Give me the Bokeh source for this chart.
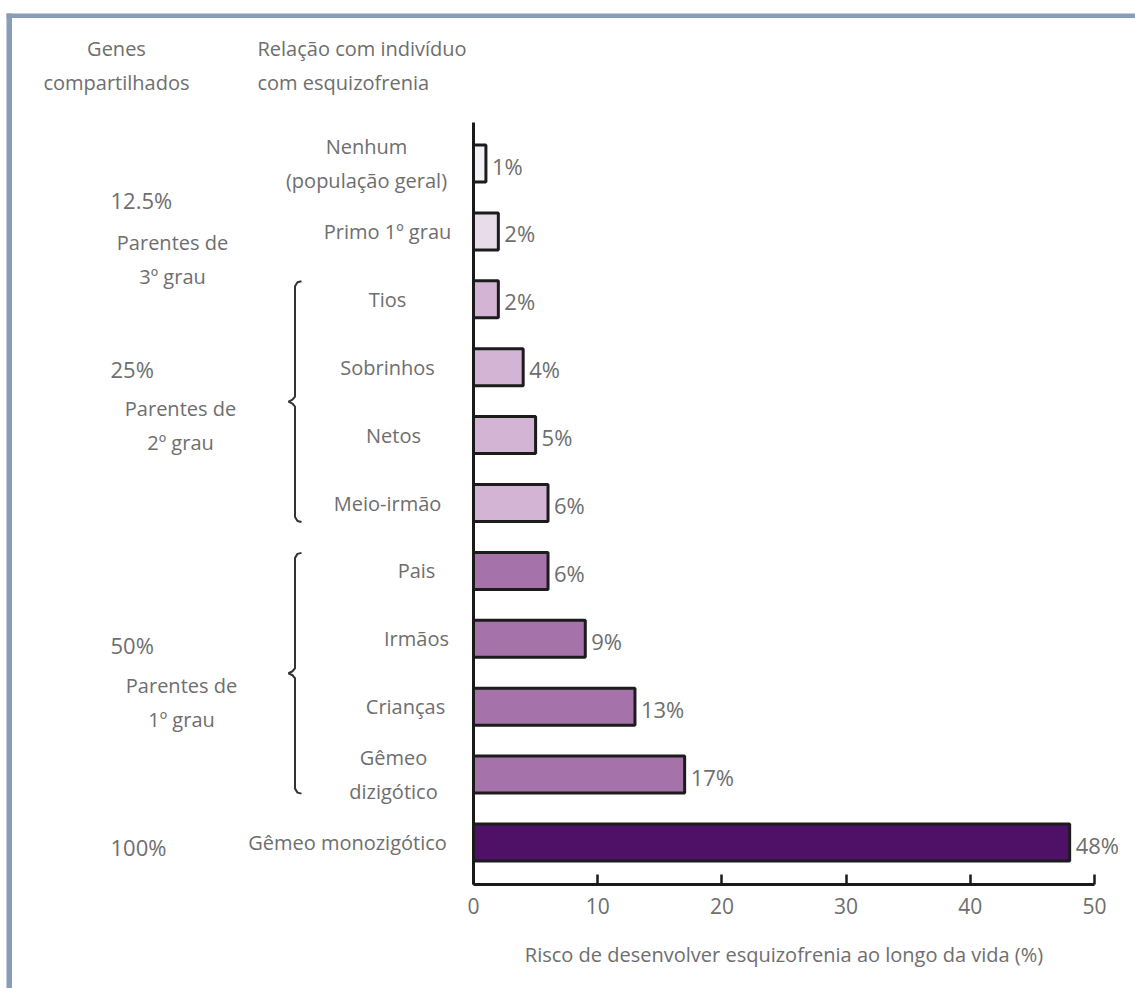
import numpy as np
from bokeh.plotting import figure
from bokeh.models import Range1d, LinearAxis, FixedTicker, ColumnDataSource, BoxAnnotation
from bokeh.core.properties import value
from bokeh.embed import file_html
from bokeh.resources import INLINE

# ---------------- data ----------------
categories = ["Nenhum\n(população geral)", "Primo 1º grau", "Tios", "Sobrinhos", "Netos",
              "Meio-irmão", "Pais", "Irmãos", "Crianças", "Gêmeo\ndizigótico",
              "Gêmeo monozigótico"]
risk = [1, 2, 2, 4, 5, 6, 6, 9, 13, 17, 48]
risk_labels = [f"{v}%" for v in risk]
shared_genes = ["12.5%", "25%", "50%", "100%"]
degree_groups = ["Parentes de\n3º grau", "Parentes de\n2º grau", "Parentes de\n1º grau"]
bracket_groups = [(2, 5), (6, 9)]          # row ranges grouped by braces
x_ticks = [0, 10, 20, 30, 40, 50]
header_left = "Genes\ncompartilhados"
header_mid = "Relação com indivíduo\ncom esquizofrenia"
x_title = "Risco de desenvolver esquizofrenia ao longo da vida (%)"

# ---------------- styles ----------------
bar_colors = ["#f4f1f7", "#e8dbea", "#d3b4d5", "#d3b4d5", "#d3b4d5", "#d3b4d5",
              "#a573aa", "#a573aa", "#a573aa", "#a573aa", "#4f1068"]
label_cx = [366, 387, 387, 387, 393, 387, 416, 416, 405, 393, 347]   # px centres
genes_py = [199, 368, 644, 846]
degree_cx = [172, 180, 181]
degree_py = [242, 408, 685]
FONT = "Open Sans"
TXT = "#6e6e6e"
FS = "20px"
W, H = 1135, 988
X0, SX = 473.0, 12.42
Y0, SY = 163.0, 67.9
LINE = 34


def dx(px):
    return (px - X0) / SX


def dy(py):
    return -(py - Y0) / SY


rows = np.arange(len(categories))
yc = -rows.astype(float)

p = figure(width=W, height=H, output_backend="svg", toolbar_location=None,
           x_axis_type=None, y_axis_type=None, min_border=0,
           x_range=Range1d(dx(0), dx(W)), y_range=Range1d(dy(H), dy(0)))
p.outline_line_color = None
p.background_fill_color = "white"

# border (top and left)
p.add_layout(BoxAnnotation(left=dx(6), right=dx(W), top=dy(13), bottom=dy(17.5),
                           fill_color="#8a9cb8", fill_alpha=1, line_alpha=0))
p.add_layout(BoxAnnotation(left=dx(6), right=dx(11.5), top=dy(13), bottom=dy(H),
                           fill_color="#8a9cb8", fill_alpha=1, line_alpha=0))

src = ColumnDataSource(dict(y=yc, risk=risk, color=bar_colors, lab=risk_labels))
p.hbar(y="y", left=0, right="risk", height=37 / SY, fill_color="color",
       line_color="#1c1c1c", line_width=3, source=src)
p.text(x="risk", y="y", text="lab", x_offset=6, y_offset=2, text_align="left",
       text_baseline="middle", text_color=TXT, text_font=value(FONT),
       text_font_size="22px", source=src)

# axes
xaxis = LinearAxis(fixed_location=dy(884), bounds=(0, 50), ticker=FixedTicker(ticks=x_ticks),
                   axis_label=x_title)
xaxis.axis_line_width = 3
xaxis.axis_line_color = "#1a1a1a"
xaxis.major_tick_in = 10
xaxis.major_tick_out = 0
xaxis.major_tick_line_width = 2.5
xaxis.major_tick_line_color = "#1a1a1a"
xaxis.minor_tick_line_color = None
xaxis.major_label_standoff = 13
xaxis.major_label_text_font = FONT
xaxis.major_label_text_font_size = "21px"
xaxis.major_label_text_color = TXT
xaxis.axis_label_text_font = FONT
xaxis.axis_label_text_font_size = FS
xaxis.axis_label_text_font_style = "normal"
xaxis.axis_label_text_color = TXT
xaxis.axis_label_standoff = 24
p.add_layout(xaxis, "below")

yaxis = LinearAxis(fixed_location=0, bounds=(dy(884), dy(122)), ticker=FixedTicker(ticks=[]))
yaxis.axis_line_width = 3
yaxis.axis_line_color = "#1a1a1a"
yaxis.major_tick_line_color = None
yaxis.minor_tick_line_color = None
yaxis.major_label_text_font_size = "0px"
p.add_layout(yaxis, "left")

# category labels
tx, ty, tt = [], [], []
for r, (cat, cx) in enumerate(zip(categories, label_cx)):
    lines = cat.split("\n")
    n = len(lines)
    for k, ln in enumerate(lines):
        tx.append(dx(cx))
        ty.append(yc[r] - (k - (n - 1) / 2) * LINE / SY)
        tt.append(ln)
p.text(x=tx, y=ty, text=tt, text_align="center", text_baseline="middle",
       text_color=TXT, text_font=value(FONT), text_font_size=FS)

# headers
for txt, xpx, align in [(header_left, 116, "center"), (header_mid, 257, "left")]:
    lines = txt.split("\n")
    p.text(x=[dx(xpx)] * len(lines), y=[dy(48 + k * LINE) for k in range(len(lines))],
           text=lines, text_align=align, text_baseline="middle", text_color=TXT,
           text_font=value(FONT), text_font_size=FS)

# shared genes
p.text(x=[dx(110)] * len(shared_genes), y=[dy(v) for v in genes_py], text=shared_genes,
       text_align="left", text_baseline="middle", text_color=TXT,
       text_font=value(FONT), text_font_size="22px")

# degree groups
for g, cx, py in zip(degree_groups, degree_cx, degree_py):
    lines = g.split("\n")
    p.text(x=[dx(cx)] * len(lines), y=[dy(py + k * LINE) for k in range(len(lines))],
           text=lines, text_align="center", text_baseline="middle", text_color=TXT,
           text_font=value(FONT), text_font_size=FS)

# braces
for r0, r1 in bracket_groups:
    top = Y0 + SY * r0 - 18
    bot = Y0 + SY * r1 + 19
    mid = (top + bot) / 2
    xs_px = [301, 297, 294.5, 294.5, 292, 288, 292, 294.5, 294.5, 297, 301]
    ys_px = [top, top + 1, top + 5, mid - 5, mid - 2, mid, mid + 2, mid + 5, bot - 5, bot - 1, bot]
    p.line(x=[dx(v) for v in xs_px], y=[dy(v) for v in ys_px], line_color="#333333",
           line_width=2)

open("out.html", "w").write(file_html(p, INLINE))
